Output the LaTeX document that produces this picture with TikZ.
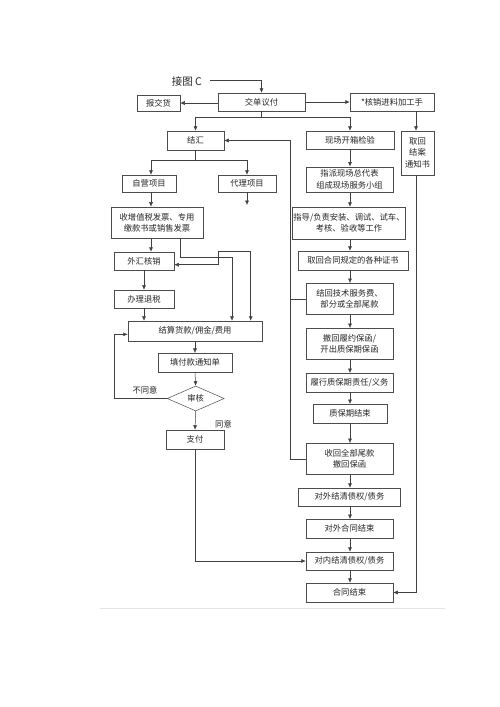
\documentclass[tikz,border=0pt]{standalone}
\usepackage{fontspec}
\setmainfont{Noto Sans CJK SC}
\usetikzlibrary{arrows.meta,shapes.geometric}
\newcommand{\mybox}[5]{\node[box,minimum width=#4,minimum height=#5] (#1) at (#2) {#3};}
\begin{document}
\begin{tikzpicture}[x=1pt,y=-1pt,
  box/.style={draw=black!70, line width=0.5pt, inner sep=1pt, align=center,
    font=\fontsize{8.3}{11.5}\selectfont, text=black!85},
  arr/.style={draw=black!75, line width=0.5pt, -{Latex[length=4.5pt,width=4pt]}},
  both/.style={draw=black!75, line width=0.5pt, {Latex[length=4.5pt,width=4pt]}-{Latex[length=4.5pt,width=4pt]}},
  ln/.style={draw=black!75, line width=0.5pt},
  lbl/.style={font=\fontsize{8.3}{10}\selectfont, text=black!85, inner sep=0pt}]
\useasboundingbox (0,0) rectangle (500,707);
\fill[white] (0,0) rectangle (500,707);

% top
\node[lbl, font=\fontsize{10.5}{12}\selectfont, anchor=east] (jt) at (202,82) {接图 C};
\mybox{jie}{261.5,102}{交单议付}{87}{18}
\mybox{bao}{158.5,103}{报交货}{43}{16}
\mybox{hx}{392,102}{*核销进料加工手}{84}{18}
\mybox{qh}{417.5,153}{取回\\结案\\通知书}{33}{44}

% left column
\mybox{jh}{195.5,140.5}{结汇}{57}{19}
\mybox{zy}{149,183.5}{自营项目}{54}{17}
\mybox{dl}{247,183.5}{代理项目}{58}{17}
\mybox{sz}{157,222.7}{收增值税发票、专用\\缴款书或销售发票}{92}{31.5}
\mybox{wh}{144,261}{外汇核销}{60}{18}
\mybox{ts}{144,299}{办理退税}{60}{18}
\mybox{js}{195,331}{结算货款/佣金/费用}{134}{20}
\mybox{tf}{195,362.7}{填付款通知单}{74}{19}
\node[box, diamond, minimum width=57, minimum height=25, inner sep=0pt] (sh) at (195.7,398.5) {审核};
\mybox{zf}{195,439.5}{支付}{58}{19}

% right column
\mybox{xc}{350,140}{现场开箱检验}{88}{18}
\mybox{zp}{349.5,179.5}{指派现场总代表\\组成现场服务小组}{87}{25.5}
\mybox{zd}{349,223}{指导/负责安装、调试、试车、\\考核、验收等工作}{102}{32}
\mybox{qz}{353,260.5}{取回合同规定的各种证书}{110}{19}
\mybox{jf}{349.5,298.8}{结回技术服务费、\\部分或全部尾款}{87}{31}
\mybox{cb}{349.5,343.8}{撤回履约保函/\\开出质保期保函}{87}{31}
\mybox{lx}{349.5,382.5}{履行质保期责任/义务}{87}{18.5}
\mybox{zj}{350,413.8}{质保期结束}{74}{19}
\mybox{sw}{349.5,458.8}{收回全部尾款\\撤回保函}{87}{31}
\mybox{dwq}{349.5,497}{对外结清债权/债务}{102}{18}
\mybox{dwh}{349.5,528.8}{对外合同结束}{87}{19}
\mybox{dn}{349.5,561}{对内结清债权/债务}{87}{18}
\mybox{ht}{349.5,592.5}{合同结束}{87}{19}

% labels
\node[lbl] (bty) at (145,390.7) {不同意};
\node[lbl] (ty) at (223.5,424.3) {同意};

% helper coordinates
\coordinate (t0) at (210,80);
\coordinate (s1) at (261.5,117);
\coordinate (s2) at (195.5,160.7);
\coordinate (dlend) at (247,205);
\coordinate (cl) at (151,0);
\coordinate (a1) at (180.7,257.3);
\coordinate (a2) at (232,257.3);
\coordinate (b1) at (218,264.7);
\coordinate (b2) at (218,251.3);
\coordinate (b3) at (250.7,251.3);
\coordinate (lp) at (114.3,334.3);
\coordinate (cx) at (350,0);
\coordinate (v) at (290.7,0);
\coordinate (qx) at (416,0);

% top connectors
\draw[arr] (t0) -| (jie.north);
\draw[arr] (jie.west |- bao.east) -- (bao.east);
\draw[arr] (jie.east) -- (hx.west);
\draw[arr] (qx |- hx.south) -- (qx |- qh.north);
\draw[arr] (qx |- qh.south) |- (ht.east);
\draw[ln] (jie.south) -- (s1);
\draw[arr] (s1) -| (jh.north);
\draw[arr] (s1) -| (cx |- xc.north);

% left connectors
\draw[ln] (jh.south) -- (s2);
\draw[arr] (s2) -| (cl |- zy.north);
\draw[arr] (s2) -| (dl.north);
\draw[arr] (dl.south) -- (dlend);
\draw[arr] (cl |- zy.south) -- (cl |- sz.north);
\draw[arr] (cl |- sz.south) -- (cl |- wh.north);
\draw[arr] (wh.south) -- (ts.north);
\draw[arr] (ts.south) -- (ts.south |- js.north);
\draw[arr] (a1 |- sz.south) -- (a1) -- (a2) -- (a2 |- js.north);
\draw[both] (wh.east |- b1) -- (b1) -- (b2) -- (b3) -- (b3 |- js.north);
\draw[arr] (js.south) -- (tf.north);
\draw[arr] (tf.south) -- (sh.north);
\draw[arr] (sh.south) -- (zf.north);
\draw[arr] (sh.west) -| (lp) -- (js.west |- lp);
\draw[arr] (zf.south) |- (dn.west);

% right connectors
\draw[arr] (cx |- xc.south) -- (cx |- zp.north);
\draw[arr] (cx |- zp.south) -- (cx |- zd.north);
\draw[arr] (cx |- zd.south) -- (cx |- qz.north);
\draw[arr] (cx |- qz.south) -- (cx |- jf.north);
\draw[arr] (cx |- jf.south) -- (cx |- cb.north);
\draw[arr] (cx |- cb.south) -- (cx |- lx.north);
\draw[arr] (cx |- lx.south) -- (cx |- zj.north);
\draw[arr] (cx |- zj.south) -- (cx |- sw.north);
\draw[arr] (cx |- sw.south) -- (cx |- dwq.north);
\draw[arr] (cx |- dwq.south) -- (cx |- dwh.north);
\draw[arr] (cx |- dwh.south) -- (cx |- dn.north);
\draw[arr] (cx |- dn.south) -- (cx |- ht.north);

% return line to 结汇
\draw[arr] (sw.west) -- (sw.west -| v) -- (v |- jh.east) -- (jh.east);
\draw[ln] (jf.west) -- (jf.west -| v);

% faint page line
\draw[black!10, line width=0.4pt] (100,608) -- (445,608);
\end{tikzpicture}
\end{document}
